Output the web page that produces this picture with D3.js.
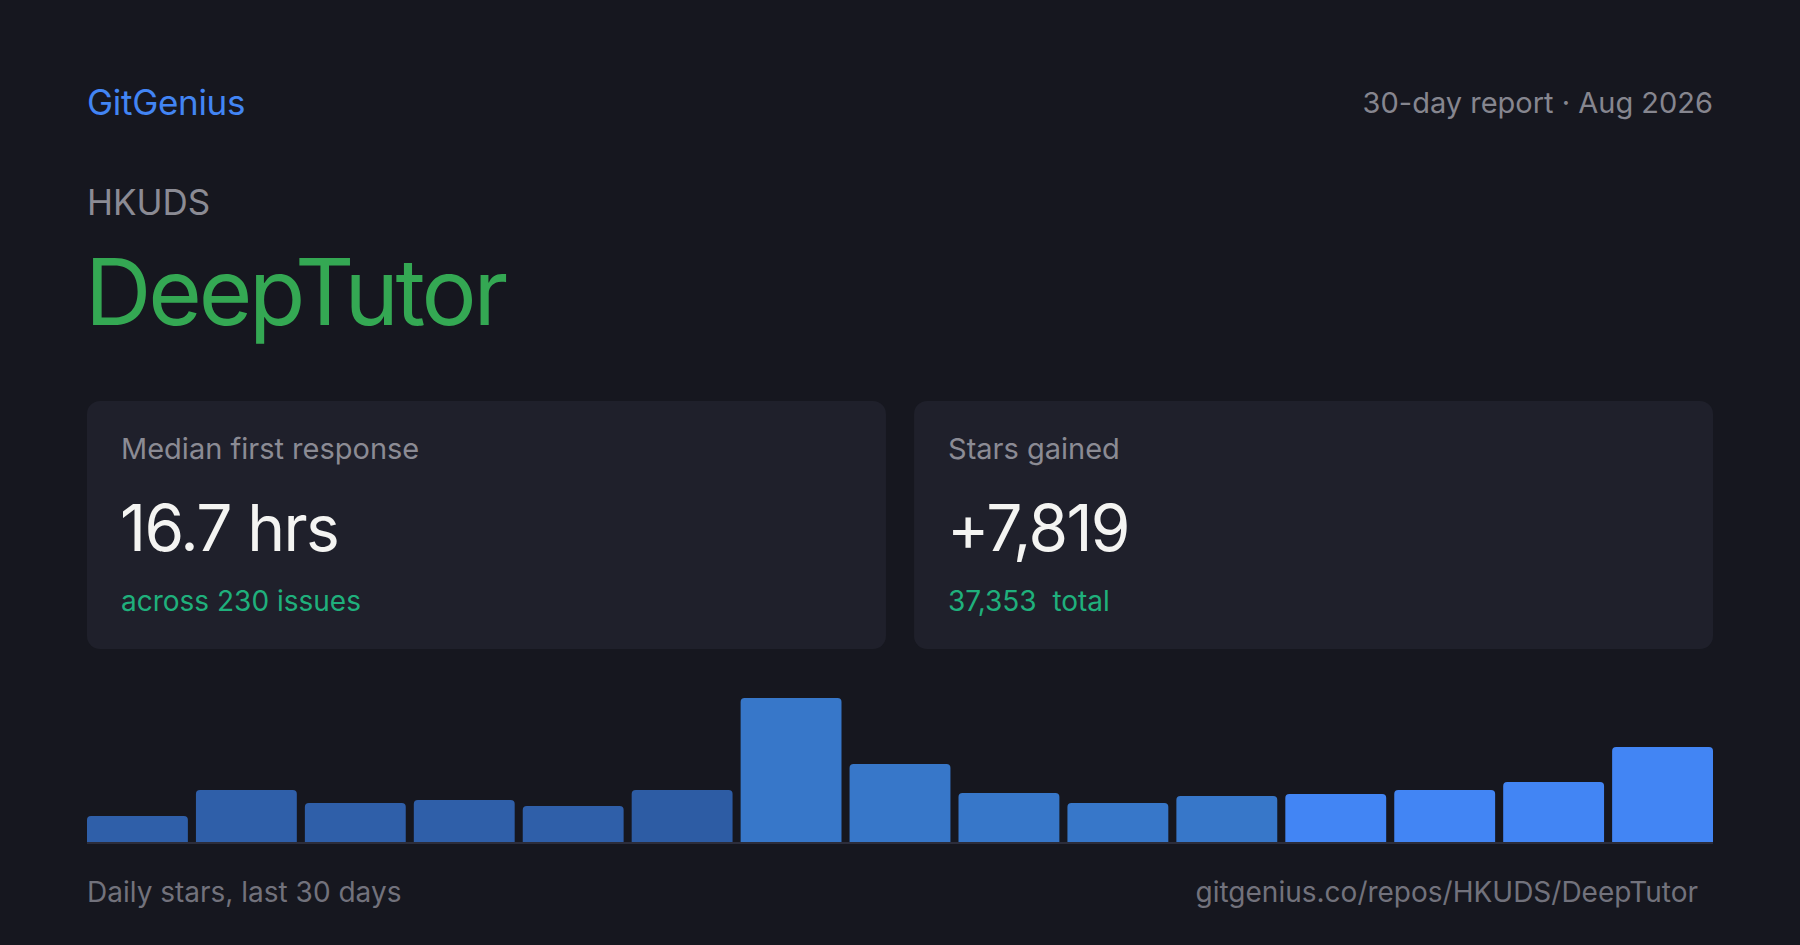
<!DOCTYPE html>
<html>
<head>
<meta charset="utf-8">
<script src="https://cdn.jsdelivr.net/npm/d3@7"></script>
<style>
  html, body { margin: 0; padding: 0; background: #16171f; }
  svg { display: block; font-family: Inter, "Noto Sans", sans-serif; }
</style>
</head>
<body>
<svg id="chart" width="1800" height="945"></svg>
<script>
// data
var buckets = d3.range(1, 16);                 // 15 two-day buckets
var dailyStars = [237, 474, 355, 383, 328, 474, 1312, 711, 446, 355, 419, 437, 474, 547, 866];
var bucketTone = [0, 0, 0, 0, 0, 1, 2, 2, 2, 2, 2, 3, 3, 3, 3];
var toneColors = ['#2f5fa9', '#2d5ca4', '#3777c9', '#4285f4'];

var cardLabels = ['Median first response', 'Stars gained'];
var cardValues = ['16.7 hrs', '+7,819'];
var cardSubs = ['across 230 issues', '37,353  total'];

var W = 1800, H = 945, padX = 87;

var svg = d3.select('#chart');

svg.append('rect').attr('width', W).attr('height', H).attr('fill', '#16171f');

// header
svg.append('text').attr('x', padX).attr('y', 115)
  .attr('fill', '#4285f4').attr('font-size', 35).attr('letter-spacing', -0.3).text('GitGenius');
svg.append('text').attr('x', W - padX).attr('y', 113).attr('text-anchor', 'end')
  .attr('fill', '#86868f').attr('font-size', 29).text('30-day report \u00b7 Aug 2026');
svg.append('text').attr('x', padX).attr('y', 215)
  .attr('fill', '#8b8b94').attr('font-size', 35).text('HKUDS');
svg.append('text').attr('x', padX - 2).attr('y', 325)
  .attr('fill', '#34a853').attr('font-size', 92).attr('letter-spacing', -3.2).text('DeepTutor');

// stat cards
var cardX = d3.scaleBand().domain([0, 1]).range([padX, W - padX]).paddingInner(0.034);

var cards = svg.selectAll('g.card').data([0, 1]).join('g')
  .attr('class', 'card')
  .attr('transform', d => 'translate(' + cardX(d) + ',401)');

cards.append('rect')
  .attr('width', cardX.bandwidth()).attr('height', 248)
  .attr('rx', 13).attr('fill', '#1f202b');

cards.append('text').attr('x', 34).attr('y', 58)
  .attr('fill', '#8b8b94').attr('font-size', 29).text(d => cardLabels[d]);
cards.append('text').attr('x', 33).attr('y', 150)
  .attr('fill', '#f4f4f2').attr('font-size', 64).attr('letter-spacing', -1.6).text(d => cardValues[d]);
cards.append('text').attr('x', 34).attr('y', 210)
  .attr('fill', '#1fb07c').attr('font-size', 28)
  .attr('xml:space', 'preserve').style('white-space', 'pre')
  .text(d => cardSubs[d]);

// bar chart
var baseY = 842, chartH = 144;
var x = d3.scaleBand().domain(buckets).range([padX, W - padX]).paddingInner(0.074);
var y = d3.scaleLinear().domain([0, d3.max(dailyStars)]).range([baseY, baseY - chartH]);

function topRounded(x0, y0, w, h, r) {
  r = Math.min(r, h, w / 2);
  return 'M' + x0 + ',' + (y0 + h) +
    'V' + (y0 + r) +
    'Q' + x0 + ',' + y0 + ' ' + (x0 + r) + ',' + y0 +
    'H' + (x0 + w - r) +
    'Q' + (x0 + w) + ',' + y0 + ' ' + (x0 + w) + ',' + (y0 + r) +
    'V' + (y0 + h) + 'Z';
}

svg.append('g').selectAll('path').data(dailyStars).join('path')
  .attr('d', (d, i) => topRounded(x(buckets[i]), y(d), x.bandwidth(), baseY - y(d), 4))
  .attr('fill', (d, i) => toneColors[bucketTone[i]]);

svg.append('line')
  .attr('x1', padX).attr('x2', W - padX)
  .attr('y1', baseY + 1).attr('y2', baseY + 1)
  .attr('stroke', '#2c2d3b').attr('stroke-width', 2);

// footer
svg.append('text').attr('x', padX).attr('y', 902)
  .attr('fill', '#72727c').attr('font-size', 28).text('Daily stars, last 30 days');
svg.append('text').attr('x', W - padX - 15).attr('y', 902).attr('text-anchor', 'end')
  .attr('fill', '#72727c').attr('font-size', 28).text('gitgenius.co/repos/HKUDS/DeepTutor');
</script>
</body>
</html>
